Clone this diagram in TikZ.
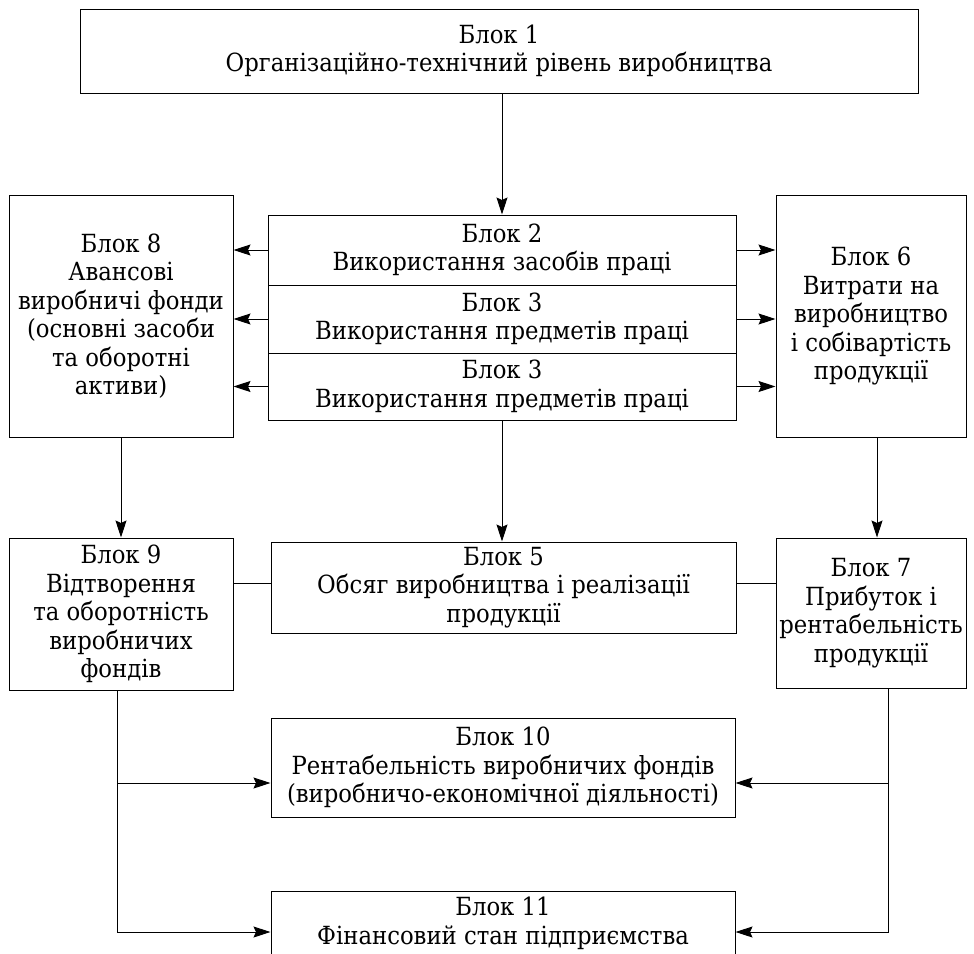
\documentclass[tikz,border=0pt]{standalone}
\usepackage{fontspec}
\setmainfont{DejaVu Serif}[FakeStretch=0.91]
\usetikzlibrary{arrows.meta,calc}
\begin{document}
\begin{tikzpicture}[x=1pt,y=-1pt,
  box/.style={draw, line width=1pt, inner sep=0pt, align=center,
    font=\fontsize{25}{28.5}\selectfont},
  arr/.style={line width=1pt, -{Stealth[length=17pt,width=11pt,inset=2.5pt]}},
  ln/.style={line width=1pt}]
\useasboundingbox (0,0) rectangle (974,953);
\clip (0,0) rectangle (974,953);
% nodes
\node[box, minimum width=838pt, minimum height=84pt] (b1) at (499,51)
  {Блок 1\\Організаційно-технічний рівень виробництва};
\node[box, minimum width=224pt, minimum height=242pt] (b8) at (121,316)
  {Блок 8\\Авансові\\виробничі фонди\\(основні засоби\\та оборотні\\активи)};
\node[box, minimum width=468pt, minimum height=70pt] (b2) at (502,250)
  {Блок 2\\Використання засобів праці};
\node[box, minimum width=468pt, minimum height=68pt] (b3) at (502,319)
  {Блок 3\\Використання предметів праці};
\node[box, minimum width=468pt, minimum height=67pt] (b3b) at (502,386.5)
  {Блок 3\\Використання предметів праці};
\node[box, minimum width=190pt, minimum height=242pt] (b6) at (871,316)
  {Блок 6\\Витрати на\\виробництво\\і собівартість\\продукції};
\node[box, minimum width=224pt, minimum height=152pt] (b9) at (121,614)
  {Блок 9\\Відтворення\\та оборотність\\виробничих\\фондів};
\node[box, minimum width=465pt, minimum height=91pt] (b5) at (503.5,587.5)
  {Блок 5\\Обсяг виробництва і реалізації\\продукції};
\node[box, minimum width=190pt, minimum height=150pt] (b7) at (871,613)
  {Блок 7\\Прибуток і\\рентабельність\\продукції};
\node[box, minimum width=464pt, minimum height=99pt] (b10) at (503,767.5)
  {Блок 10\\Рентабельність виробничих фондів\\(виробничо-економічної діяльності)};
\node[box, minimum width=464pt, minimum height=65pt] (b11) at (503,923.5)
  {Блок 11\\Фінансовий стан підприємства};
% connectors
\draw[arr] (b2.north |- b1.south) -- (b2.north);
\foreach \n in {b2,b3,b3b}{
  \draw[arr] (\n.west) -- (\n.west -| b8.east);
  \draw[arr] (\n.east) -- (\n.east -| b6.west);
}
\draw[arr] (b3b.south) -- (b3b.south |- b5.north);
\draw[arr] (b8.south) -- (b9.north);
\coordinate (s6) at ([xshift=6pt]b6.south);
\draw[arr] (s6) -- (s6 |- b7.north);
\coordinate (m5l) at ([yshift=4.5pt]b5.west);
\coordinate (m5r) at ([yshift=4.5pt]b5.east);
\draw[ln] (m5l -| b9.east) -- (m5l);
\draw[ln] (m5r) -- (m5r -| b7.west);
\coordinate (p9) at ([xshift=-4pt]b9.south);
\coordinate (p7) at ([xshift=17pt]b7.south);
\coordinate (t10l) at ([yshift=-15.5pt]b10.west);
\coordinate (t10r) at ([yshift=-15.5pt]b10.east);
\coordinate (t11l) at ([yshift=-8.5pt]b11.west);
\coordinate (t11r) at ([yshift=-8.5pt]b11.east);
\draw[arr] (p9) |- (t11l);
\draw[arr] (p9 |- t10l) -- (t10l);
\draw[arr] (p7) |- (t11r);
\draw[arr] (p7 |- t10r) -- (t10r);
\end{tikzpicture}
\end{document}
